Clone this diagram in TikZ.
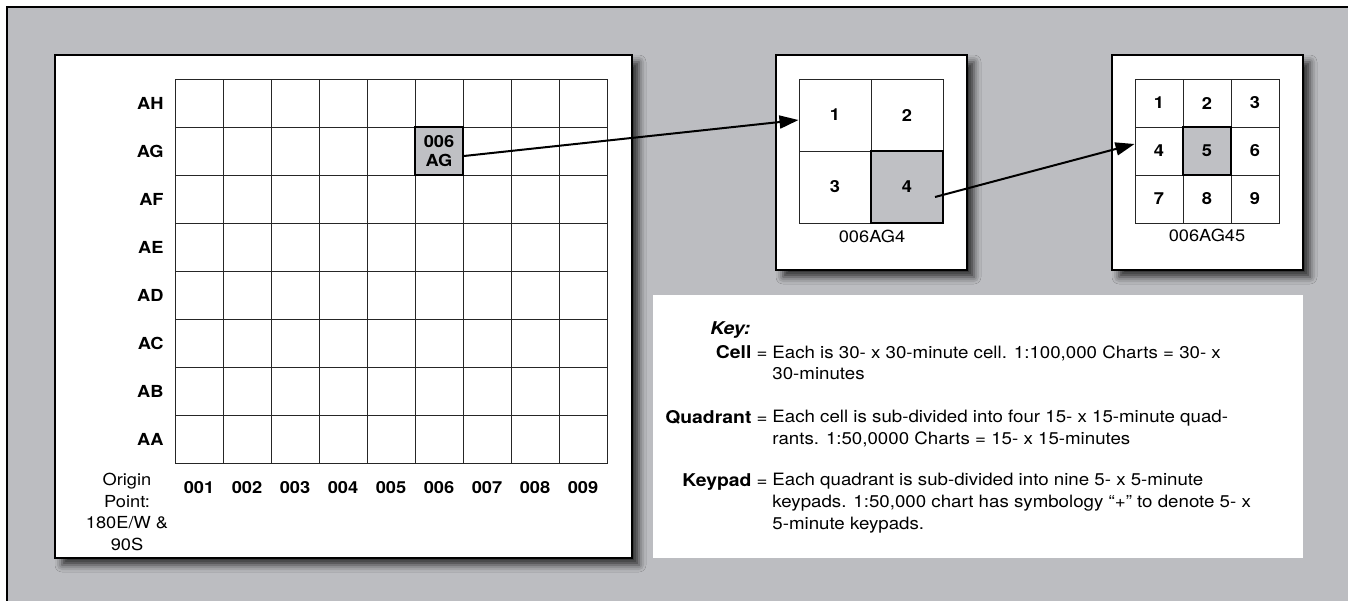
\documentclass[tikz,border=0pt]{standalone}
\usepackage{fontspec}
\setmainfont{TeX Gyre Heros}[FakeStretch=1.1]
\usetikzlibrary{arrows.meta,shadows.blur}

\definecolor{panelgray}{RGB}{188,189,193}
\definecolor{cellgray}{RGB}{191,192,196}
\def\labfont{\fontsize{8.3}{10.75}\selectfont}
\def\keyfont{\fontsize{8.5}{10.85}\selectfont}
\def\termfont{\fontsize{8.8}{10.85}\selectfont\bfseries}

\tikzset{
  frame/.style={draw=black,fill=panelgray,line width=0.6pt},
  sheet/.style={draw=black,fill=white,line width=0.6pt,
    blur shadow={shadow xshift=3.5pt,shadow yshift=-3.5pt,shadow blur radius=3.5pt,shadow opacity=75}},
  gridline/.style={draw=black!85,line width=0.5pt},
  cellbox/.style={draw=black!85,line width=0.5pt,minimum size=#1,inner sep=0pt,
    font=\labfont\bfseries},
  hicell/.style={cellbox=#1,fill=cellgray,draw=black,line width=0.9pt},
  lab/.style={font=\labfont\bfseries,inner sep=0pt},
  caption/.style={font=\labfont,inner sep=0pt},
  pointer/.style={-{Triangle[length=9.5pt,width=6.5pt,fill=black]},draw=black,line width=1pt},
  keyterm/.style={anchor=north east,inner sep=0pt,font=\keyfont},
  keytext/.style={anchor=north west,inner sep=0pt,align=left,font=\keyfont},
}

\begin{document}
\begin{tikzpicture}[x=0.5pt,y=-0.5pt]
  \useasboundingbox (0,0) rectangle (1348,600);
  \fill[white] (0,0) rectangle (1348,600);
  \clip (0,0) rectangle (1348,600);
  \draw[frame] (7,7) rectangle (1370,620);

  % main chart
  \draw[sheet] (55,55) rectangle (632,558);
  \foreach \c in {0,...,8}
    \foreach \r in {0,...,7}
      \draw[gridline] ({175+48*\c},{79+48*\r}) rectangle ++(48,48);
  \foreach \rowname [count=\r] in {AH,AG,AF,AE,AD,AC,AB,AA}
    \node[lab,anchor=east] (row\rowname) at (164,{79+48*\r-24}) {\rowname};
  \foreach \c in {1,...,9}
    \node[lab] (col\c) at ({175+48*\c-24},488) {00\c};
  \node[caption,align=center] (origin) at (127,512) {Origin\\Point:\\180E/W \&\\90S};
  \node[hicell=24pt,align=center,font=\fontsize{8.3}{9.5}\selectfont\bfseries]
    (cellAG) at (439,151) {006\\AG};

  % quadrant
  \draw[sheet] (776,55) rectangle (967,270);
  \foreach \q/\cx/\cy in {1/835/115,2/907/115,3/835/187}
    \node[cellbox=36pt] (quad\q) at (\cx,\cy) {\q};
  \node[hicell=36pt] (quad4) at (907,187) {4};
  \node[caption] (quadname) at (872,236) {006AG4};

  % keypad
  \draw[sheet] (1112,55) rectangle (1303,270);
  \foreach \k/\cx/\cy in {1/1159/103,2/1207/103,3/1255/103,4/1159/151,
                          6/1255/151,7/1159/199,8/1207/199,9/1255/199}
    \node[cellbox=24pt] (key\k) at (\cx,\cy) {\k};
  \node[hicell=24pt] (key5) at (1207,151) {5};
  \node[caption] (keyname) at (1207,235) {006AG45};

  % key
  \fill[white] (653,295) rectangle (1303,558);
  \node[keytext,font=\termfont\itshape] (keyhead) at (710,321) {Key:};
  \node[keyterm] (termcell) at (768,345) {{\termfont Cell} =};
  \node[keytext] (defcell) at (772,345)
    {Each is 30- x 30-minute cell. 1:100,000 Charts = 30- x\\30-minutes};
  \node[keyterm] (termquad) at (768,410) {{\termfont Quadrant} =};
  \node[keytext] (defquad) at (772,410)
    {Each cell is sub-divided into four 15- x 15-minute quad-\\rants. 1:50,0000 Charts = 15- x 15-minutes};
  \node[keyterm] (termkey) at (768,473) {{\termfont Keypad} =};
  \node[keytext] (defkey) at (772,473)
    {Each quadrant is sub-divided into nine 5- x 5-minute\\keypads. 1:50,000 chart has symbology “+” to denote 5- x\\5-minute keypads.};

  \draw[pointer] ([yshift=-2.5pt]cellAG.east) -- ([yshift=-2.5pt]quad1.west);
  \draw[pointer] ([shift={(14pt,-5pt)}]quad4.center) -- ([yshift=3.5pt]key4.west);
\end{tikzpicture}
\end{document}
